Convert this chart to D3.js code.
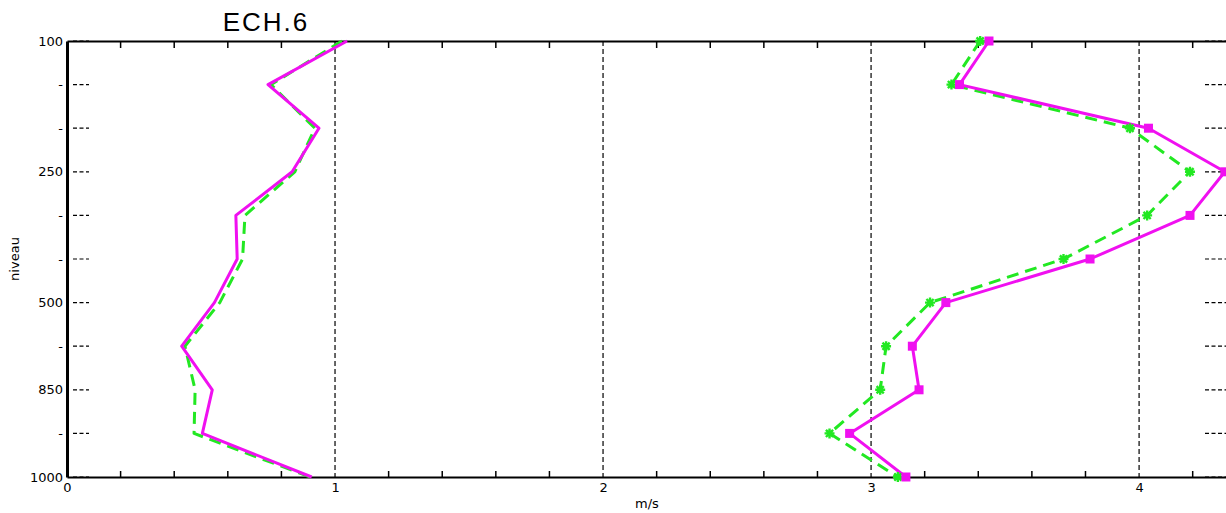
<!DOCTYPE html>
<html><head><meta charset="utf-8">
<script src="https://cdn.jsdelivr.net/npm/d3@7"></script>
<style>body{margin:0;background:#fff}svg{display:block}text{font-family:"Liberation Sans",Arial,sans-serif;fill:#000}</style>
</head><body><svg id="c" width="1226" height="513"></svg>
<script>
const levels = [100,150,200,250,300,400,500,700,850,925,1000];
const levelLabels = ["100","-","-","250","-","-","500","-","850","-","1000"];
const xTicksLabeled = [0,1,2,3,4];
const leftMagenta = [1.045,0.75,0.94,0.84,0.63,0.635,0.55,0.428,0.542,0.505,0.913];
const leftGreen   = [1.026,0.761,0.925,0.85,0.664,0.655,0.57,0.44,0.478,0.474,0.907];
const rightMagenta= [3.44,3.33,4.035,4.32,4.19,3.817,3.279,3.154,3.179,2.92,3.13];
const rightGreen  = [3.407,3.30,3.966,4.19,4.03,3.718,3.22,3.056,3.034,2.845,3.10];
const title = "ECH.6", xTitle = "m/s", yTitle = "niveau";

const svg = d3.select("#c");
const L=67, R=1227, T=41, B=477;
const x = d3.scaleLinear().domain([0,4.328]).range([L,R]);
const y = d3.scalePoint().domain(levels).range([T,B]);
const MAG="#f010f0", GRN="#22e822";
const tickFont = "DejaVu Sans, sans-serif";

// vertical dashed grid at integers
svg.append("g").selectAll("line").data([1,2,3,4]).join("line")
  .attr("x1",d=>x(d)).attr("x2",d=>x(d)).attr("y1",T).attr("y2",B)
  .attr("stroke","#000").attr("stroke-width",1.2).attr("stroke-dasharray","5,3");

// horizontal dashed tick marks left & right
const hg = svg.append("g");
hg.selectAll("line.l").data(levels).join("line").attr("class","l")
  .attr("x1",73).attr("x2",89).attr("y1",d=>y(d)).attr("y2",d=>y(d))
  .attr("stroke","#000").attr("stroke-width",1.2).attr("stroke-dasharray","4,2.5");
hg.selectAll("line.r").data(levels).join("line").attr("class","r")
  .attr("x1",1205).attr("x2",1226).attr("y1",d=>y(d)).attr("y2",d=>y(d))
  .attr("stroke","#000").attr("stroke-width",1.2).attr("stroke-dasharray","4,2.5");

// x axes
const minor = d3.range(0,4.33,0.2).filter(v=>Math.abs(v-Math.round(v))>1e-6);
const xb = d3.axisBottom(x).tickValues(xTicksLabeled).tickFormat(d3.format("d")).tickSize(0).tickPadding(6);
const gb = svg.append("g").attr("transform",`translate(0,${B})`).call(xb);
gb.select(".domain").attr("stroke","#000").attr("stroke-width",2);
gb.selectAll("text").style("font-size","13px").style("font-family",tickFont);
svg.append("g").selectAll("line").data(minor).join("line")
  .attr("x1",d=>x(d)).attr("x2",d=>x(d)).attr("y1",B).attr("y2",B-6)
  .attr("stroke","#000").attr("stroke-width",1.5);
const gt = svg.append("g").attr("transform",`translate(0,${T})`).call(d3.axisTop(x).tickValues([]).tickSize(0));
gt.select(".domain").attr("stroke","#000").attr("stroke-width",2);
svg.append("g").selectAll("line").data(minor).join("line")
  .attr("x1",d=>x(d)).attr("x2",d=>x(d)).attr("y1",T).attr("y2",T+7)
  .attr("stroke","#000").attr("stroke-width",1.5);

// y axis
const yl = d3.axisLeft(y).tickFormat((d,i)=>levelLabels[i]).tickSize(0).tickPadding(4);
const gl = svg.append("g").attr("transform",`translate(${L},0)`).call(yl);
gl.select(".domain").attr("stroke","#000").attr("stroke-width",3);
gl.selectAll("text").style("font-size","13px").style("font-family",tickFont);

// lines
const line = vals => d3.line().x(d=>x(d)).y((d,i)=>y(levels[i]))(vals);
function draw(vals,color,dashed){
  svg.append("path").attr("d",line(vals)).attr("fill","none").attr("stroke",color)
    .attr("stroke-width",3).attr("stroke-linejoin","round")
    .attr("stroke-dasharray",dashed?"12,7":null);
}
draw(leftGreen,GRN,true);
draw(leftMagenta,MAG,false);
draw(rightGreen,GRN,true);
draw(rightMagenta,MAG,false);

// markers: green asterisks, magenta squares
const ast = "M-5,0L5,0M0,-5L0,5M-3.6,-3.6L3.6,3.6M-3.6,3.6L3.6,-3.6";
svg.append("g").selectAll("path").data(rightGreen).join("path")
  .attr("transform",(d,i)=>`translate(${x(d)},${y(levels[i])})`)
  .attr("d",ast).attr("fill","none").attr("stroke",GRN).attr("stroke-width",2.4);
svg.append("g").selectAll("rect").data(rightMagenta).join("rect")
  .attr("x",d=>x(d)-4.5).attr("y",(d,i)=>y(levels[i])-4.5).attr("width",9).attr("height",9)
  .attr("fill",MAG);

// titles
svg.append("text").attr("x",266).attr("y",31).attr("text-anchor","middle")
  .style("font-size","26px").attr("letter-spacing","2").text(title);
svg.append("text").attr("x",(L+R)/2).attr("y",508).attr("text-anchor","middle")
  .style("font-size","13px").style("font-family",tickFont).text(xTitle);
svg.append("text").attr("transform",`translate(19,${(T+B)/2}) rotate(-90)`).attr("text-anchor","middle")
  .style("font-size","13px").style("font-family",tickFont).text(yTitle);
</script></body></html>
